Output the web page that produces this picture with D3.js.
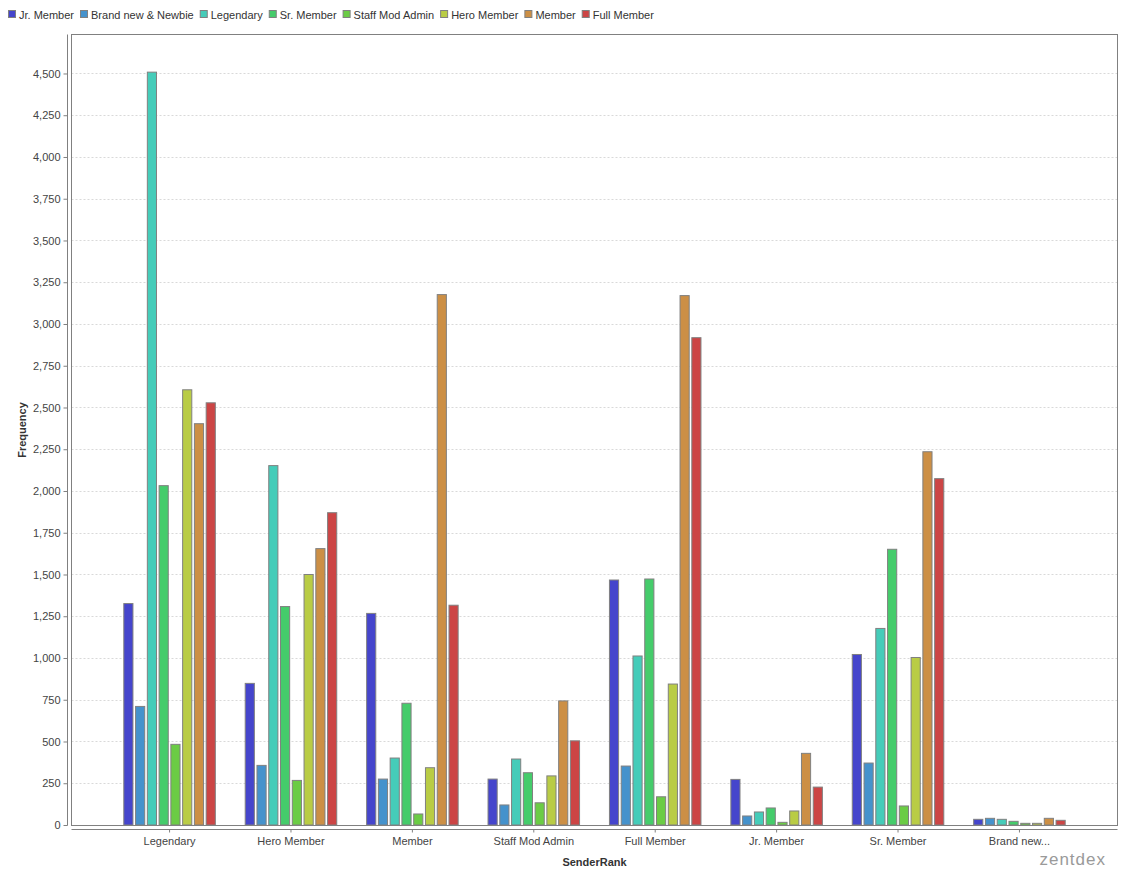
<!DOCTYPE html>
<html>
<head>
<meta charset="utf-8">
<script src="https://cdn.jsdelivr.net/npm/d3@7"></script>
<style>
  body { margin: 0; background: #fff; }
  svg { display: block; font-family: "Liberation Sans", Arial, sans-serif; }
</style>
</head>
<body>
<svg id="chart" width="1121" height="875"></svg>
<script>
// ---- data ----
const categories = ["Legendary", "Hero Member", "Member", "Staff Mod Admin", "Full Member", "Jr. Member", "Sr. Member", "Brand new & Newbie"];
const tickLabels = ["Legendary", "Hero Member", "Member", "Staff Mod Admin", "Full Member", "Jr. Member", "Sr. Member", "Brand new..."];
const seriesNames = ["Jr. Member", "Brand new & Newbie", "Legendary", "Sr. Member", "Staff Mod Admin", "Hero Member", "Member", "Full Member"];
const seriesColors = ["#4545CC", "#4592CC", "#45CCB9", "#45CC6B", "#6BCC45", "#B9CC45", "#CC8F45", "#CC4545"];
// values per series, in category order
const jrMember      = [1326, 848, 1267, 275, 1467, 273, 1021, 34];
const brandNew      = [710, 357, 275, 120, 353, 54, 371, 40];
const legendary     = [4508, 2152, 401, 395, 1012, 78, 1177, 34];
const srMember      = [2032, 1308, 729, 313, 1473, 102, 1651, 22];
const staffModAdmin = [483, 267, 66, 133, 169, 16, 114, 10];
const heroMember    = [2606, 1500, 343, 294, 844, 84, 1003, 10];
const member        = [2403, 1655, 3176, 743, 3170, 429, 2235, 40];
const fullMember    = [2528, 1870, 1316, 504, 2918, 227, 2074, 28];
const seriesValues = [jrMember, brandNew, legendary, srMember, staffModAdmin, heroMember, member, fullMember];
const yTicks = d3.range(0, 4501, 250);

// ---- layout ----
const svg = d3.select("#chart");
const plot = { left: 71.5, right: 1117.5, top: 34.5, bottom: 825.5 };
const W = plot.right - plot.left;

// category axis like JFreeChart: lower/upper margin 5%, category margin 20%
const catW = W * 0.7 / categories.length;
const catGap = W * 0.2 / (categories.length - 1);
const x = d3.scaleBand()
  .domain(categories)
  .range([plot.left + W * 0.05, plot.right - W * 0.05])
  .paddingInner(catGap / (catW + catGap))
  .paddingOuter(0);

const bw = catW * 0.8 / seriesNames.length;
const bg = catW * 0.2 / (seriesNames.length - 1);
const xs = d3.scaleBand()
  .domain(seriesNames)
  .range([0, x.bandwidth()])
  .paddingInner(bg / (bw + bg))
  .paddingOuter(0);

const maxV = d3.max(seriesValues.flat());
const y = d3.scaleLinear().domain([0, maxV * 1.05]).range([plot.bottom - 0.5, plot.top]);

// gridlines
svg.append("g").selectAll("line")
  .data(yTicks.filter(d => d > 0))
  .join("line")
  .attr("x1", plot.left).attr("x2", plot.right)
  .attr("y1", d => Math.round(y(d)) + 0.5).attr("y2", d => Math.round(y(d)) + 0.5)
  .attr("stroke", "#d9d9d9").attr("stroke-width", 1).attr("stroke-dasharray", "2,2");

// bars
const barData = [];
seriesNames.forEach((s, si) => {
  categories.forEach((c, ci) => {
    barData.push({ s, si, c, v: seriesValues[si][ci] });
  });
});
svg.append("g").selectAll("rect")
  .data(barData)
  .join("rect")
  .attr("x", d => x(d.c) + xs(d.s))
  .attr("width", xs.bandwidth())
  .attr("y", d => y(d.v))
  .attr("height", d => y(0) - y(d.v))
  .attr("fill", d => seriesColors[d.si])
  .attr("stroke", "#808080")
  .attr("stroke-width", 1);

// plot outline
svg.append("rect")
  .attr("x", plot.left).attr("y", plot.top)
  .attr("width", W).attr("height", plot.bottom - plot.top)
  .attr("fill", "none").attr("stroke", "#808080").attr("stroke-width", 1);

// y axis (offset 4px)
const yAxisG = svg.append("g")
  .attr("transform", `translate(${plot.left - 4},0)`)
  .call(d3.axisLeft(y).tickValues(yTicks).tickFormat(d3.format(",")).tickSize(4).tickPadding(3));
yAxisG.select(".domain").attr("stroke", "#808080").attr("d", `M0,${plot.top}V${plot.bottom}`);
yAxisG.selectAll(".tick line").attr("stroke", "#808080");
yAxisG.selectAll(".tick text").attr("fill", "#444").style("font-size", "11px").style("font-family", "Liberation Sans, Arial, sans-serif");

// x axis (offset 4px)
const xAxisG = svg.append("g")
  .attr("transform", `translate(0,${plot.bottom + 4})`)
  .call(d3.axisBottom(x).tickFormat((d, i) => tickLabels[i]).tickSize(3).tickPadding(5));
xAxisG.select(".domain").attr("stroke", "#808080").attr("d", `M${plot.left},0H${plot.right}`);
xAxisG.selectAll(".tick line").attr("stroke", "#808080");
xAxisG.selectAll(".tick text").attr("fill", "#444").style("font-size", "11px").style("font-family", "Liberation Sans, Arial, sans-serif");

// axis titles
svg.append("text")
  .attr("transform", `translate(26,${(plot.top + plot.bottom) / 2}) rotate(-90)`)
  .attr("text-anchor", "middle")
  .attr("fill", "#333").style("font-size", "11px").style("font-weight", "bold")
  .text("Frequency");
svg.append("text")
  .attr("x", (plot.left + plot.right) / 2).attr("y", 866)
  .attr("text-anchor", "middle")
  .attr("fill", "#333").style("font-size", "11px").style("font-weight", "bold")
  .text("SenderRank");

// legend
const legend = svg.append("g");
let lx = 8;
seriesNames.forEach((s, i) => {
  legend.append("rect")
    .attr("x", lx + 0.5).attr("y", 10.5).attr("width", 7).attr("height", 7)
    .attr("fill", seriesColors[i]).attr("stroke", "#808080").attr("stroke-width", 1);
  const t = legend.append("text")
    .attr("x", lx + 11).attr("y", 18.5)
    .attr("fill", "#333").style("font-size", "11px")
    .text(s);
  lx = lx + 11 + t.node().getComputedTextLength() + 6;
});

// watermark
svg.append("text")
  .attr("x", 1106).attr("y", 865)
  .attr("text-anchor", "end")
  .attr("fill", "#9a9a9a").style("font-size", "17px").style("letter-spacing", "1px")
  .text("zentdex");
</script>
</body>
</html>
